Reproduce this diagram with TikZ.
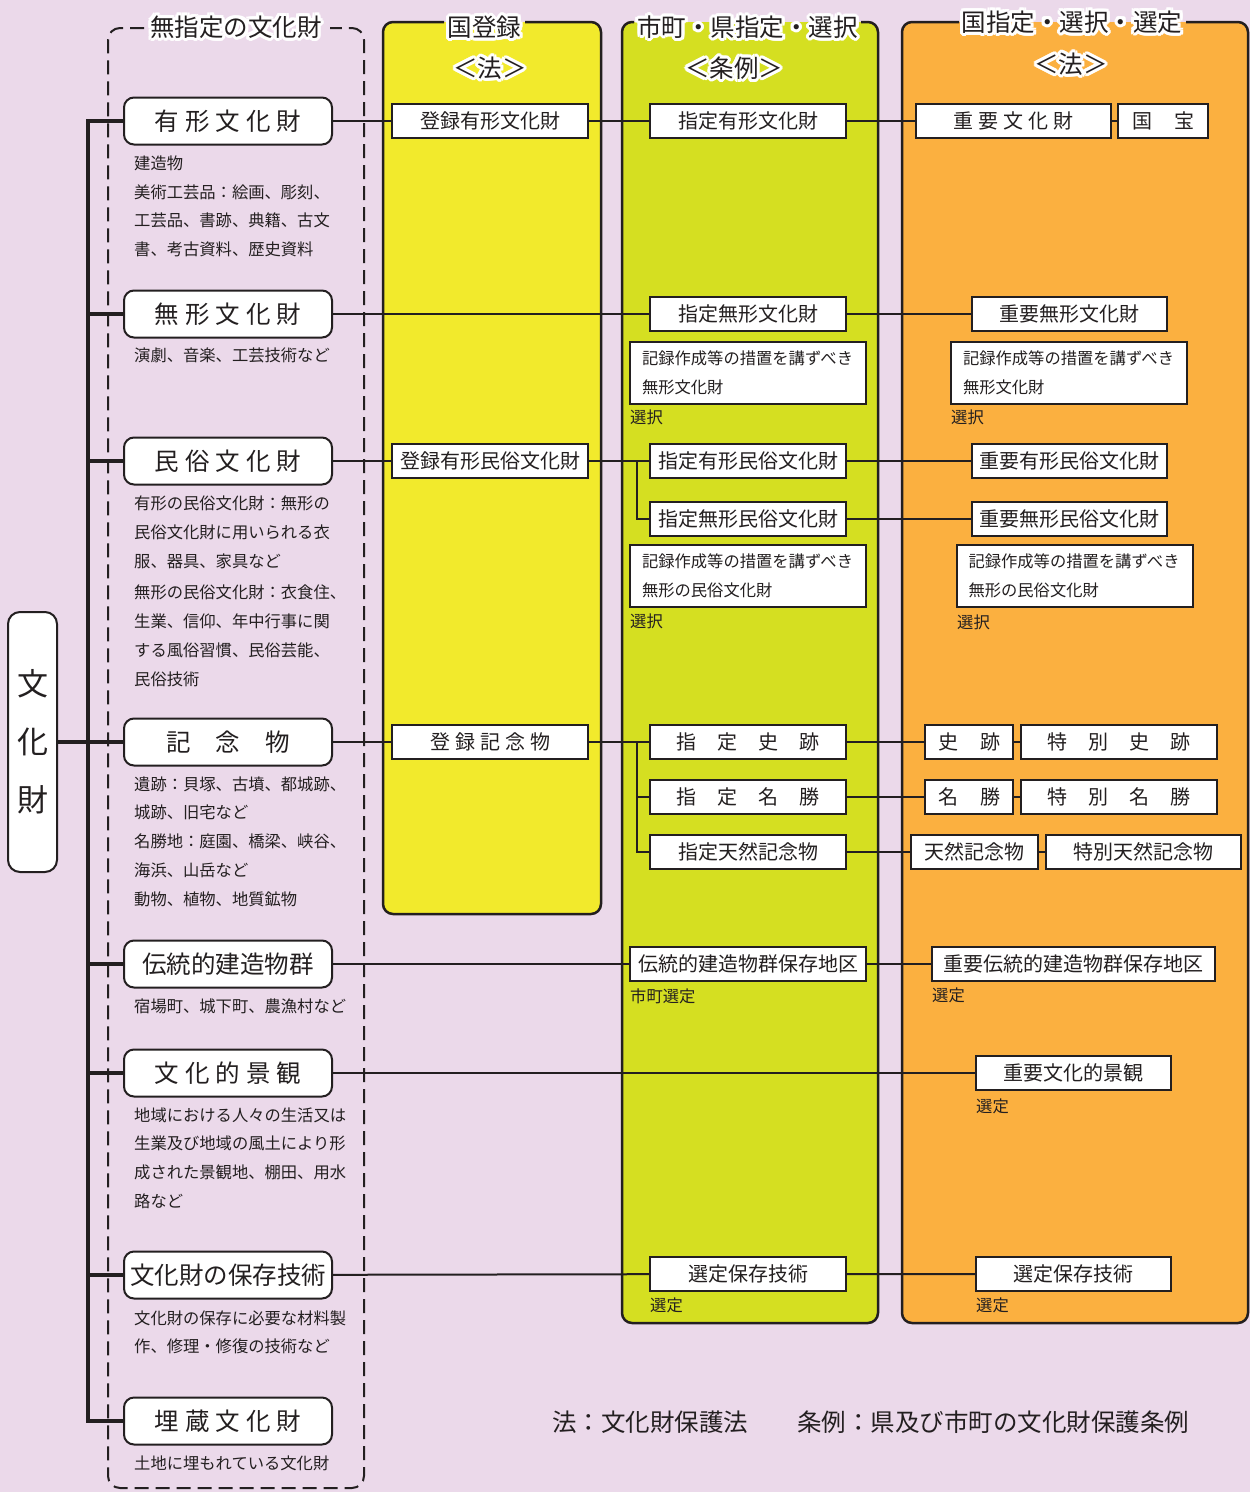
\documentclass[tikz,border=0pt]{standalone}
\usepackage{fontspec}
\setmainfont{Noto Sans CJK JP}
\usetikzlibrary{calc}
\definecolor{bg}{HTML}{EBD9EA}
\definecolor{pyel}{HTML}{F2EA2C}
\definecolor{pgrn}{HTML}{D5DF21}
\definecolor{pora}{HTML}{FBB040}
\definecolor{ink}{HTML}{231F20}
\newcommand\hsp[1]{\hspace{#1pt}}
\newcommand\vcj[1]{\raisebox{0pt}[0.88em][0.12em]{#1}}
\newcommand\halo[3]{%
  \foreach \ang in {0,22.5,...,337.5}{\node[ttl,text=white] at ($(#1)+(\ang:3.2pt)$) {#3};}
  \node[ttl] (#2) at (#1) {#3};}
\begin{document}
\begin{tikzpicture}[x=1pt,y=-1pt,
  cat/.style={draw=ink, fill=white, line width=2pt, rounded corners=10pt, minimum width=208pt, minimum height=47pt, inner sep=0pt, text=ink, font=\fontsize{24.5}{24.5}\selectfont, text height=21.56pt, text depth=2.94pt},
  bx/.style={draw=ink, fill=white, line width=2pt, minimum width=196pt, minimum height=34pt, inner sep=0pt, text=ink, font=\fontsize{20}{20}\selectfont, text height=17.6pt, text depth=2.4pt},
  rk/.style={draw=ink, fill=white, line width=2pt, minimum width=236pt, minimum height=62pt, inner xsep=12pt, inner ysep=0pt, text width=212pt, align=left, text=ink, font=\fontsize{16.3}{29}\selectfont},
  ds/.style={anchor=west, inner sep=0pt, text=ink, font=\fontsize{16.3}{16.3}\selectfont, text height=14.3pt, text depth=2pt},
  cn/.style={draw=ink, line width=2pt},
  tr/.style={draw=ink, line width=4.5pt},
  pb/.style={draw=ink, line width=2.5pt, rounded corners=10pt},
  ttl/.style={inner sep=0pt, text=ink, font=\fontsize{24.5}{24.5}\selectfont},
]
\useasboundingbox (0,0) rectangle (1250,1492);
\fill[bg] (0,0) rectangle (1250,1492);
% panels
\fill[pyel, rounded corners=10pt] (383,22) rectangle (601,914);
\draw[pb] (444,22) -| (383,914) -| (601,22) -- (525,22);
\fill[pgrn, rounded corners=10pt] (622,22) rectangle (878,1323);
\draw[pb] (634,22) -| (622,1323) -| (878,22) -- (861,22);
\fill[pora, rounded corners=10pt] (902,22) rectangle (1248,1323);
\draw[pb] (959,22) -| (902,1323) -| (1248,22) -- (1186,22);
% dashed box
\draw[ink, line width=2pt, dash pattern=on 14pt off 7pt, rounded corners=12pt] (144,28) -| (108,1488) -| (364,28) -- (330,28);

% main node
\node[draw=ink, fill=white, line width=2pt, rounded corners=12pt, minimum width=49pt, minimum height=260pt, inner sep=0pt, align=center, text=ink, font=\fontsize{31}{58}\selectfont] (bk) at (32.5,742) {\vcj{文}\\\vcj{化}\\\vcj{財}};

% categories
\node[cat] (c1) at (228,121) {有\hsp{6}形\hsp{6}文\hsp{6}化\hsp{6}財};
\node[cat] (c2) at (228,314) {無\hsp{6}形\hsp{6}文\hsp{6}化\hsp{6}財};
\node[cat] (c3) at (228,461) {民\hsp{6}俗\hsp{6}文\hsp{6}化\hsp{6}財};
\node[cat] (c4) at (228,742) {記\hsp{25}念\hsp{25}物};
\node[cat] (c5) at (228,964) {伝統的建造物群};
\node[cat] (c6) at (228,1073) {文\hsp{6}化\hsp{6}的\hsp{6}景\hsp{6}観};
\node[cat] (c7) at (228,1275) {文化財の保存技術};
\node[cat] (c8) at (228,1421) {埋\hsp{6}蔵\hsp{6}文\hsp{6}化\hsp{6}財};

% descriptions
\foreach \t [count=\i] in {建造物,美術工芸品：絵画、彫刻、,工芸品、書跡、典籍、古文,書、考古資料、歴史資料}
  \node[ds] (da\i) at (134,{163+28.9*(\i-1)}) {\t};
\node[ds] (db1) at (134,355) {演劇、音楽、工芸技術など};
\foreach \t [count=\i] in {有形の民俗文化財：無形の,民俗文化財に用いられる衣,服、器具、家具など}
  \node[ds] (dc\i) at (134,{503+29*(\i-1)}) {\t};
\foreach \t [count=\i] in {無形の民俗文化財：衣食住、,生業、信仰、年中行事に関,する風俗習慣、民俗芸能、,民俗技術}
  \node[ds] (dd\i) at (134,{592+29*(\i-1)}) {\t};
\foreach \t [count=\i] in {遺跡：貝塚、古墳、都城跡、,城跡、旧宅など,名勝地：庭園、橋梁、峡谷、,海浜、山岳など,動物、植物、地質鉱物}
  \node[ds] (de\i) at (134,{784+28.8*(\i-1)}) {\t};
\node[ds] (df1) at (134,1006) {宿場町、城下町、農漁村など};
\foreach \t [count=\i] in {地域における人々の生活又は,生業及び地域の風土により形,成された景観地、棚田、用水,路など}
  \node[ds] (dg\i) at (134,{1115+28.8*(\i-1)}) {\t};
\node[ds] (dh1) at (134,1318) {文化財の保存に必要な材料製};
\node[ds] (dh2) at (134,1346) {作、修理・修復の技術など};
\node[ds] (di1) at (134,1463) {土地に埋もれている文化財};

% register column
\node[bx] (r1) at (490,121) {登録有形文化財};
\node[bx] (r2) at (490,461) {登録有形民俗文化財};
\node[bx] (r3) at (490,742) {登\hsp{5}録\hsp{5}記\hsp{5}念\hsp{5}物};

% local column
\node[bx] (g1) at (748,121) {指定有形文化財};
\node[bx] (g2) at (748,314) {指定無形文化財};
\node[rk] (g2r) at (748,373) {\vcj{記録作成等の措置を講ずべき}\\\vcj{無形文化財}};
\node[ds] (s1) at (630,417) {選択};
\node[bx] (g3) at (748,461) {指定有形民俗文化財};
\node[bx] (g4) at (748,519) {指定無形民俗文化財};
\node[rk] (g4r) at (748,576) {\vcj{記録作成等の措置を講ずべき}\\\vcj{無形の民俗文化財}};
\node[ds] (s2) at (630,621) {選択};
\node[bx] (g5) at (748,742) {指\hsp{21}定\hsp{21}史\hsp{21}跡};
\node[bx] (g6) at (748,797) {指\hsp{21}定\hsp{21}名\hsp{21}勝};
\node[bx] (g7) at (748,852) {指定天然記念物};
\node[bx, minimum width=236pt] (g8) at (748,964) {伝統的建造物群保存地区};
\node[ds] (s3) at (630,996) {市町選定};
\node[bx] (g9) at (748,1274) {選定保存技術};
\node[ds] (s4) at (650,1305) {選定};

% national column
\node[bx, minimum width=195pt] (o1) at (1013.5,121) {重\hsp{5}要\hsp{5}文\hsp{5}化\hsp{5}財};
\node[bx, minimum width=90pt] (o1b) at (1163,121) {国\hsp{22}宝};
\node[bx, minimum width=195pt] (o2) at (1069.5,314) {重要無形文化財};
\node[rk] (o2r) at (1069,373) {\vcj{記録作成等の措置を講ずべき}\\\vcj{無形文化財}};
\node[ds] (s5) at (951,417) {選択};
\node[bx, minimum width=195pt] (o3) at (1069.5,461) {重要有形民俗文化財};
\node[bx, minimum width=195pt] (o4) at (1069.5,519) {重要無形民俗文化財};
\node[rk, minimum width=235pt] (o4r) at (1074.5,576) {\vcj{記録作成等の措置を講ずべき}\\\vcj{無形の民俗文化財}};
\node[ds] (s6) at (957,622) {選択};
\node[bx, minimum width=88pt] (o5) at (969,742) {史\hsp{22}跡};
\node[bx] (o5b) at (1119,742) {特\hsp{21}別\hsp{21}史\hsp{21}跡};
\node[bx, minimum width=88pt] (o6) at (969,797) {名\hsp{22}勝};
\node[bx] (o6b) at (1119,797) {特\hsp{21}別\hsp{21}名\hsp{21}勝};
\node[bx, minimum width=127pt] (o7) at (974.5,852) {天然記念物};
\node[bx, minimum width=195pt] (o7b) at (1143.5,852) {特別天然記念物};
\node[bx, minimum width=283pt] (o8) at (1073.5,964) {重要伝統的建造物群保存地区};
\node[ds] (s7) at (932,995) {選定};
\node[bx, minimum width=195pt] (o9) at (1073.5,1073) {重要文化的景観};
\node[ds] (s8) at (976,1106) {選定};
\node[bx, minimum width=195pt] (o10) at (1073.5,1274) {選定保存技術};
\node[ds] (s9) at (976,1305) {選定};

% trunk
\coordinate (tt) at (88,121);
\draw[tr] (c1.west) -- (c1.west -| tt) -- (c8.west -| tt) -- (c8.west);
\foreach \c in {c2,c3,c4,c5,c6,c7}
  \draw[tr] (\c.west -| tt) -- (\c.west);
\draw[tr] (bk.east) -- (bk.east -| tt);

% connectors
\draw[cn] (c1) -- (r1) -- (g1) -- (o1) -- (o1b);
\draw[cn] (c2) -- (g2) -- (o2);
\draw[cn] (c3) -- (r2) -- (g3) -- (o3);
\coordinate (br1) at (637,461);
\draw[cn] (br1) |- (g4);
\draw[cn] (g4) -- (o4);
\draw[cn] (c4) -- (r3) -- (g5) -- (o5) -- (o5b);
\coordinate (br2) at (637,742);
\draw[cn] (br2) |- (g6);
\draw[cn] (br2) |- (g7);
\draw[cn] (g6) -- (o6) -- (o6b);
\draw[cn] (g7) -- (o7) -- (o7b);
\draw[cn] (c5) -- (g8) -- (o8);
\draw[cn] (c6) -- (o9);
\draw[cn] (c7) -- (g9) -- (o10);

% titles
\halo{236,27}{t0}{無指定の文化財}
\halo{484.5,27}{t1}{国登録}
\halo{490,68}{t1b}{＜法＞}
\halo{747.5,27}{t2}{市町・県指定・選択}
\halo{734,68}{t2b}{＜条例＞}
\halo{1072,22}{t3}{国指定・選択・選定}
\halo{1071,64}{t3b}{＜法＞}

% footer
\node[anchor=west, inner sep=0pt, text=ink, font=\fontsize{24.5}{24.5}\selectfont] (f1) at (552,1422) {法：文化財保護法};
\node[anchor=west, inner sep=0pt, text=ink, font=\fontsize{24.5}{24.5}\selectfont] (f2) at (797,1422) {条例：県及び市町の文化財保護条例};
\end{tikzpicture}
\end{document}
